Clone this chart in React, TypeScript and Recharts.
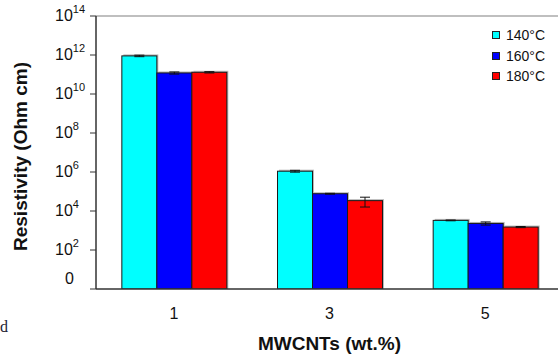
import React from 'react';
import { BarChart, Bar, XAxis, YAxis, ErrorBar, Legend, ReferenceLine } from 'recharts';

const categories = ['1', '3', '5'];
const seriesNames = ['140°C', '160°C', '180°C'];
const seriesColors = ['#00FFFF', '#0000FF', '#FF0000'];
const res140 = [9e11, 1.1e6, 3.3e3];
const res160 = [1.2e11, 7.7e4, 2.3e3];
const res180 = [1.3e11, 3.4e4, 1.5e3];
const err140 = [[0.8e11, 0.8e11], [0.12e6, 0.12e6], [0.15e3, 0.15e3]];
const err160 = [[0.15e11, 0.15e11], [0.4e4, 0.4e4], [0.4e3, 0.45e3]];
const err180 = [[0.1e11, 0.1e11], [1.8e4, 1.7e4], [0.1e3, 0.1e3]];
const majorTicks = [1, 1e2, 1e4, 1e6, 1e8, 1e10, 1e12, 1e14];
const minorFactors = [4, 9, 16, 25, 36, 49, 64, 81];
const boundaryTicks = [0, 1, 2, 3];

const minorTicks: number[] = [];
majorTicks.forEach((m) => {
  minorTicks.push(m);
  if (m < 1e14) minorFactors.forEach((f) => minorTicks.push(m * f));
});

const data = categories.map((c, i) => ({
  cat: c,
  s140: res140[i],
  s160: res160[i],
  s180: res180[i],
  e140: err140[i],
  e160: err160[i],
  e180: err180[i],
}));

const FONT = '"Liberation Sans", Arial, sans-serif';

const YTick = (props: any) => {
  const { x, y, payload } = props;
  const exp = Math.round(Math.log10(payload.value));
  if (exp === 0) {
    return (
      <text x={x - 23} y={y - 5} textAnchor="start" fontFamily={FONT} fontSize={16} fill="#111">
        0
      </text>
    );
  }
  return (
    <text x={x - 33} y={y + 5} textAnchor="start" fontFamily={FONT} fontSize={16} fill="#111">
      <tspan>10</tspan>
      <tspan dy={-8} fontSize={11}>{exp}</tspan>
    </text>
  );
};

const ShadowBar = (props: any) => {
  const { x, y, width, height, fill } = props;
  if (!height || height <= 0) return null;
  return (
    <g>
      <rect x={x + 1.5} y={y - 1.5} width={width} height={height + 1.5} fill="#b8b8b8" />
      <rect x={x} y={y} width={width} height={height} fill={fill} stroke="#1a1a1a" strokeWidth={1} />
    </g>
  );
};

const LegendContent = () => (
  <div style={{ fontFamily: FONT, fontSize: 14, color: '#111' }}>
    {seriesNames.map((n, i) => (
      <div key={n} style={{ display: 'flex', alignItems: 'center', height: 20.5, whiteSpace: 'nowrap' }}>
        <span
          style={{
            display: 'inline-block',
            width: 8,
            height: 8,
            boxSizing: 'border-box',
            border: '1px solid #222',
            background: seriesColors[i],
            marginRight: 6,
          }}
        />
        {n}
      </div>
    ))}
  </div>
);

const YTitle = (props: any) => {
  const vb = props.viewBox || { x: 0, y: 0, height: 0 };
  const cx = vb.x + 27;
  const cy = vb.y + vb.height / 2 + 4;
  return (
    <text
      x={cx}
      y={cy}
      transform={`rotate(-90 ${cx} ${cy})`}
      textAnchor="middle"
      fontFamily={FONT}
      fontSize={19}
      fontWeight="bold"
      fill="#111"
    >
      Resistivity (Ohm cm)
    </text>
  );
};

export default function App() {
  return (
    <div
      style={{
        position: 'fixed',
        top: 0,
        left: 0,
        width: 558,
        height: 358,
        overflow: 'hidden',
        background: '#fff',
      }}
    >
      <BarChart
        width={570}
        height={358}
        data={data}
        margin={{ top: 16, right: 7, bottom: 0, left: 0 }}
        barCategoryGap="16.6%"
        barGap={0}
      >
        <XAxis
          xAxisId="bounds"
          type="number"
          domain={[0, 3]}
          ticks={boundaryTicks}
          allowDataOverflow
          height={0}
          tick={false}
          tickSize={6}
          axisLine={false}
          interval={0}
          tickLine={{ stroke: '#333' }}
        />
        <XAxis
          xAxisId="cat"
          dataKey="cat"
          height={69}
          tickLine={false}
          tickSize={0}
          tickMargin={19}
          axisLine={{ stroke: '#333', strokeWidth: 1.5 }}
          tick={{ fontFamily: FONT, fontSize: 16, fill: '#111' }}
          label={{
            value: 'MWCNTs (wt.%)',
            position: 'insideBottom',
            offset: 8,
            style: { fontFamily: FONT, fontSize: 19, fontWeight: 'bold', fill: '#111' },
          }}
        />
        <YAxis
          yAxisId="main"
          scale="log"
          domain={[1, 1e14]}
          allowDataOverflow
          ticks={majorTicks}
          interval={0}
          width={96}
          tickSize={6}
          tickLine={{ stroke: '#333' }}
          axisLine={{ stroke: '#333', strokeWidth: 1.5 }}
          tick={<YTick />}
          label={<YTitle />}
        />
        <YAxis
          yAxisId="minor"
          scale="log"
          domain={[1, 1e14]}
          allowDataOverflow
          ticks={minorTicks}
          interval={0}
          mirror
          tick={false}
          tickSize={4}
          axisLine={false}
          tickLine={{ stroke: '#333' }}
        />
        <ReferenceLine yAxisId="main" xAxisId="cat" y={1e14} stroke="#aaa" strokeWidth={1.5} ifOverflow="visible" />
        <Legend
          layout="vertical"
          align="center"
          verticalAlign="middle"
          content={<LegendContent />}
          wrapperStyle={{ top: 25, left: 492, width: 70, height: 64 }}
        />
        <Bar xAxisId="cat" yAxisId="main" dataKey="s140" name={seriesNames[0]} fill={seriesColors[0]} shape={<ShadowBar />} isAnimationActive={false}>
          <ErrorBar dataKey="e140" width={5} stroke="#111" strokeWidth={1} />
        </Bar>
        <Bar xAxisId="cat" yAxisId="main" dataKey="s160" name={seriesNames[1]} fill={seriesColors[1]} shape={<ShadowBar />} isAnimationActive={false}>
          <ErrorBar dataKey="e160" width={5} stroke="#111" strokeWidth={1} />
        </Bar>
        <Bar xAxisId="cat" yAxisId="main" dataKey="s180" name={seriesNames[2]} fill={seriesColors[2]} shape={<ShadowBar />} isAnimationActive={false}>
          <ErrorBar dataKey="e180" width={5} stroke="#111" strokeWidth={1} />
        </Bar>
      </BarChart>
      <span
        style={{
          position: 'absolute',
          left: 0,
          top: 318,
          fontFamily: '"Liberation Serif", serif',
          fontSize: 16,
          color: '#223',
        }}
      >
        d
      </span>
    </div>
  );
}
